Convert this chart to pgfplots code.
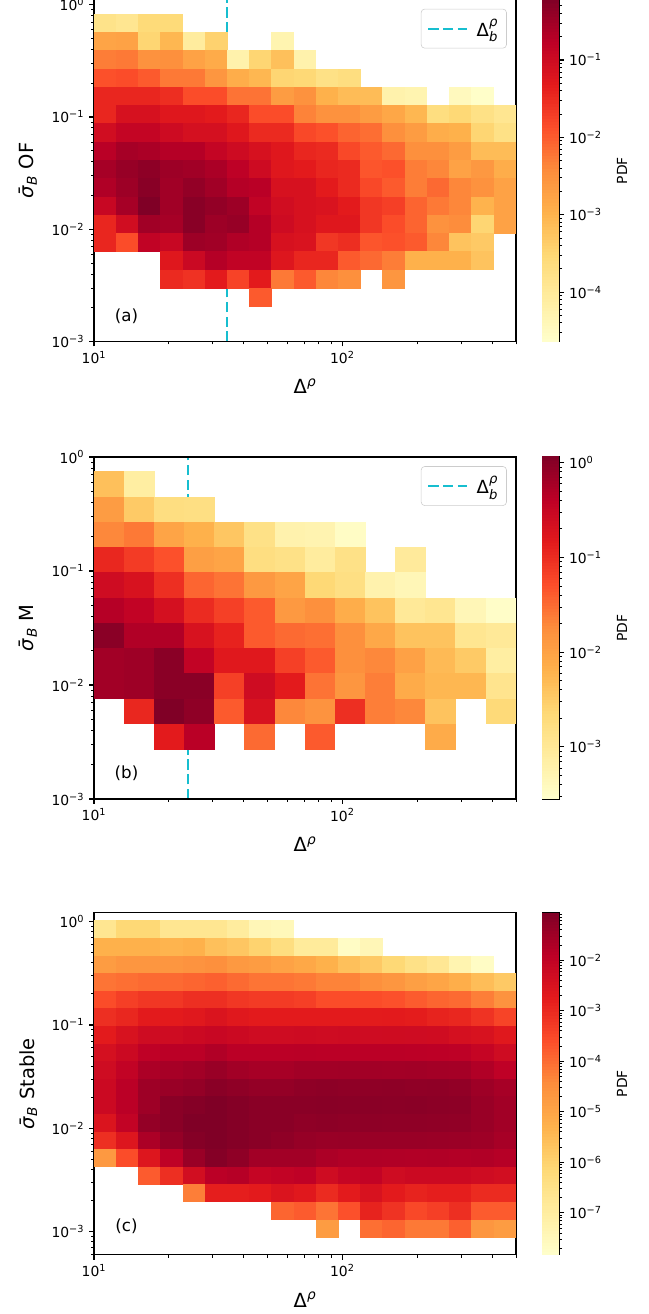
\documentclass[border=0pt]{standalone}
\usepackage{fontspec}
\setmainfont{DejaVu Sans}
\usepackage{pgfplots}
\usepackage{pgfplotstable}
\pgfplotsset{compat=1.18}

\definecolor{dashc}{HTML}{17BECF}

% half sizes of one histogram cell (axis 303.84pt x 246.24pt), plus a little overlap
\newdimen\cwA \newdimen\chA \newdimen\cwB \newdimen\chB \newdimen\chC \newdimen\cbw
\cwA=8.2pt \chA=6.79pt \cwB=11.05pt \chB=9.29pt \chC=6.54pt \cbw=6.12pt
\pgfdeclareplotmark{cellA}{\pgfpathrectangle{\pgfqpoint{-\cwA}{-\chA}}{\pgfqpoint{2\cwA}{2\chA}}\pgfusepathqfill}
\pgfdeclareplotmark{cellB}{\pgfpathrectangle{\pgfqpoint{-\cwB}{-\chB}}{\pgfqpoint{2\cwB}{2\chB}}\pgfusepathqfill}
\pgfdeclareplotmark{cellC}{\pgfpathrectangle{\pgfqpoint{-\cwA}{-\chC}}{\pgfqpoint{2\cwA}{2\chC}}\pgfusepathqfill}
% thin slices of the colour bars
\pgfdeclareplotmark{barA}{\pgfpathrectangle{\pgfqpoint{-\cbw}{-1.3pt}}{\pgfqpoint{2\cbw}{2.6pt}}\pgfusepathqfill}
\pgfdeclareplotmark{barB}{\pgfpathrectangle{\pgfqpoint{-\cbw}{-1.2pt}}{\pgfqpoint{2\cbw}{2.4pt}}\pgfusepathqfill}
\pgfdeclareplotmark{barC}{\pgfpathrectangle{\pgfqpoint{-\cbw}{-1.25pt}}{\pgfqpoint{2\cbw}{2.5pt}}\pgfusepathqfill}

\newcommand{\legtext}{Δ\rlap{\raisebox{0.56em}{\fontsize{9.5}{10}\selectfont\textit{ρ}}}\raisebox{-0.3em}{\fontsize{9.5}{10}\selectfont\textit{b}}}

% log10(PDF) per cell: i = x bin, j = y bin counted from the top
\pgfplotstableread[row sep=\\]{
i j v\\
0 0 -3.80\\ 1 0 -3.89\\ 2 0 -3.58\\ 3 0 -3.58\\
0 1 -2.78\\ 1 1 -2.74\\ 2 1 -3.49\\ 3 1 -3.05\\ 4 1 -4.06\\ 5 1 -3.44\\ 8 1 -4.29\\
0 2 -2.29\\ 1 2 -2.25\\ 2 2 -2.51\\ 3 2 -2.47\\ 4 2 -2.74\\ 5 2 -2.87\\ 6 2 -4.24\\ 7 2 -3.49\\ 8 2 -3.18\\ 9 2 -4.24\\
0 3 -1.89\\ 1 3 -1.85\\ 2 3 -1.98\\ 3 3 -2.25\\ 4 3 -2.25\\ 5 3 -2.56\\ 6 3 -2.91\\ 7 3 -3.05\\ 8 3 -3.49\\ 9 3 -3.53\\ 10 3 -3.75\\ 11 3 -3.67\\
0 4 -1.45\\ 1 4 -1.45\\ 2 4 -1.45\\ 3 4 -1.54\\ 4 4 -1.85\\ 5 4 -1.85\\ 6 4 -2.20\\ 7 4 -2.20\\ 8 4 -2.65\\ 9 4 -2.51\\ 10 4 -2.96\\ 11 4 -3.13\\ 12 4 -3.13\\ 13 4 -4.24\\ 14 4 -4.29\\ 16 4 -4.46\\ 17 4 -4.60\\
0 5 -1.45\\ 1 5 -1.14\\ 2 5 -1.14\\ 3 5 -1.27\\ 4 5 -1.27\\ 5 5 -1.32\\ 6 5 -1.45\\ 7 5 -1.85\\ 8 5 -1.85\\ 9 5 -2.34\\ 10 5 -2.51\\ 11 5 -2.51\\ 12 5 -2.65\\ 13 5 -2.82\\ 14 5 -3.05\\ 15 5 -3.67\\ 16 5 -3.53\\ 17 5 -3.75\\ 18 5 -3.89\\
0 6 -1.05\\ 1 6 -0.87\\ 2 6 -0.87\\ 3 6 -1.01\\ 4 6 -1.10\\ 5 6 -1.10\\ 6 6 -1.27\\ 7 6 -1.49\\ 8 6 -1.49\\ 9 6 -1.81\\ 10 6 -1.89\\ 11 6 -2.07\\ 12 6 -2.16\\ 13 6 -2.47\\ 14 6 -2.65\\ 15 6 -2.91\\ 16 6 -2.96\\ 17 6 -3.49\\ 18 6 -3.75\\
0 7 -0.74\\ 1 7 -0.56\\ 2 7 -0.61\\ 3 7 -0.70\\ 4 7 -0.70\\ 5 7 -0.87\\ 6 7 -1.01\\ 7 7 -1.14\\ 8 7 -1.27\\ 9 7 -1.45\\ 10 7 -1.49\\ 11 7 -1.81\\ 12 7 -1.98\\ 13 7 -2.11\\ 14 7 -2.47\\ 15 7 -2.47\\ 16 7 -2.65\\ 17 7 -3.13\\ 18 7 -3.13\\
0 8 -0.56\\ 1 8 -0.43\\ 2 8 -0.34\\ 3 8 -0.48\\ 4 8 -0.52\\ 5 8 -0.61\\ 6 8 -0.79\\ 7 8 -1.01\\ 8 8 -1.27\\ 9 8 -1.32\\ 10 8 -1.45\\ 11 8 -1.49\\ 12 8 -1.94\\ 13 8 -1.89\\ 14 8 -2.29\\ 15 8 -2.38\\ 16 8 -2.74\\ 17 8 -2.60\\ 18 8 -2.91\\
0 9 -0.65\\ 1 9 -0.48\\ 2 9 -0.30\\ 3 9 -0.52\\ 4 9 -0.39\\ 5 9 -0.52\\ 6 9 -0.70\\ 7 9 -0.74\\ 8 9 -1.14\\ 9 9 -1.14\\ 10 9 -1.32\\ 11 9 -1.49\\ 12 9 -1.81\\ 13 9 -1.98\\ 14 9 -2.29\\ 15 9 -2.11\\ 16 9 -2.38\\ 17 9 -2.51\\ 18 9 -2.74\\
0 10 -0.92\\ 1 10 -0.56\\ 2 10 -0.21\\ 3 10 -0.52\\ 4 10 -0.30\\ 5 10 -0.39\\ 6 10 -0.48\\ 7 10 -0.83\\ 8 10 -1.05\\ 9 10 -1.14\\ 10 10 -1.18\\ 11 10 -1.32\\ 12 10 -1.63\\ 13 10 -1.72\\ 14 10 -2.07\\ 15 10 -2.25\\ 16 10 -2.38\\ 17 10 -3.00\\ 18 10 -2.74\\
0 11 -1.45\\ 1 11 -1.05\\ 2 11 -0.52\\ 3 11 -0.56\\ 4 11 -0.30\\ 5 11 -0.48\\ 6 11 -0.43\\ 7 11 -0.70\\ 8 11 -1.01\\ 9 11 -1.14\\ 10 11 -1.27\\ 11 11 -1.27\\ 12 11 -1.63\\ 13 11 -1.85\\ 14 11 -2.07\\ 15 11 -2.51\\ 16 11 -2.43\\ 17 11 -3.49\\ 18 11 -2.74\\
0 12 -1.45\\ 1 12 -1.85\\ 2 12 -0.83\\ 3 12 -0.92\\ 4 12 -0.48\\ 5 12 -0.52\\ 6 12 -0.65\\ 7 12 -0.70\\ 8 12 -1.14\\ 9 12 -1.18\\ 10 12 -1.63\\ 11 12 -1.54\\ 12 12 -1.94\\ 13 12 -1.89\\ 14 12 -1.98\\ 15 12 -2.38\\ 16 12 -3.22\\ 17 12 -3.31\\
3 13 -1.27\\ 4 13 -0.96\\ 5 13 -0.70\\ 6 13 -0.83\\ 7 13 -0.83\\ 8 13 -1.23\\ 9 13 -1.45\\ 10 13 -1.45\\ 11 13 -1.98\\ 12 13 -2.11\\ 13 13 -2.29\\ 14 13 -2.96\\ 15 13 -2.96\\ 16 13 -2.96\\ 17 13 -3.22\\
3 14 -1.49\\ 4 14 -1.58\\ 5 14 -1.32\\ 6 14 -1.76\\ 7 14 -1.32\\ 8 14 -2.25\\ 9 14 -1.98\\ 10 14 -2.38\\ 11 14 -2.47\\ 13 14 -2.56\\
7 15 -1.98\\
}\cellsA

\pgfplotstableread[row sep=\\]{
i j v\\
0 0 -2.36\\ 1 0 -3.12\\
0 1 -1.93\\ 1 1 -2.47\\ 2 1 -2.76\\ 3 1 -2.79\\
0 2 -1.71\\ 1 2 -1.60\\ 2 2 -2.03\\ 3 2 -2.18\\ 4 2 -2.43\\ 5 2 -2.83\\ 6 2 -3.23\\ 7 2 -3.26\\ 8 2 -3.48\\
0 3 -0.95\\ 1 3 -1.13\\ 2 3 -1.31\\ 3 3 -1.96\\ 4 3 -2.03\\ 5 3 -2.76\\ 6 3 -2.83\\ 7 3 -3.08\\ 8 3 -2.83\\ 10 3 -3.04\\
0 4 -0.59\\ 1 4 -0.70\\ 2 4 -1.02\\ 3 4 -1.46\\ 4 4 -1.56\\ 5 4 -1.89\\ 6 4 -2.03\\ 7 4 -2.65\\ 8 4 -2.79\\ 9 4 -3.23\\ 10 4 -3.33\\
0 5 -0.34\\ 1 5 -0.45\\ 2 5 -0.66\\ 3 5 -0.99\\ 4 5 -1.17\\ 5 5 -1.38\\ 6 5 -1.89\\ 7 5 -1.78\\ 8 5 -2.14\\ 9 5 -2.39\\ 10 5 -3.01\\ 11 5 -2.94\\ 12 5 -3.33\\ 13 5 -3.51\\
0 6 -0.01\\ 1 6 -0.30\\ 2 6 -0.30\\ 3 6 -0.70\\ 4 6 -0.91\\ 5 6 -1.38\\ 6 6 -1.49\\ 7 6 -1.53\\ 8 6 -1.78\\ 9 6 -2.07\\ 10 6 -2.39\\ 11 6 -2.39\\ 12 6 -2.94\\ 13 6 -3.01\\
0 7 -0.19\\ 1 7 -0.16\\ 2 7 -0.01\\ 3 7 -0.45\\ 4 7 -0.81\\ 5 7 -0.81\\ 6 7 -1.17\\ 7 7 -1.38\\ 8 7 -1.78\\ 9 7 -1.71\\ 10 7 -1.99\\ 11 7 -2.29\\ 12 7 -2.47\\ 13 7 -3.12\\
0 8 -0.19\\ 1 8 -0.16\\ 2 8 -0.01\\ 3 8 -0.01\\ 4 8 -1.17\\ 5 8 -0.59\\ 6 8 -0.84\\ 7 8 -1.56\\ 8 8 -1.85\\ 9 8 -1.64\\ 10 8 -2.11\\ 11 8 -2.25\\ 12 8 -2.25\\ 13 8 -2.90\\
1 9 -0.95\\ 2 9 0.06\\ 3 9 -0.05\\ 4 9 -1.38\\ 5 9 -0.70\\ 6 9 -1.71\\ 7 9 -1.82\\ 8 9 -1.02\\ 9 9 -1.64\\ 10 9 -1.71\\ 11 9 -2.39\\ 13 9 -2.68\\
2 10 -0.84\\ 3 10 -0.37\\ 5 10 -1.49\\ 7 10 -1.38\\ 11 10 -2.11\\
}\cellsB

\pgfplotstableread[row sep=\\]{
i j v\\
0 0 -6.68\\ 1 0 -6.14\\ 2 0 -6.14\\ 3 0 -6.68\\ 4 0 -6.68\\ 5 0 -6.68\\ 6 0 -6.95\\ 7 0 -7.42\\ 8 0 -7.49\\
0 1 -5.26\\ 1 1 -5.26\\ 2 1 -5.26\\ 3 1 -5.33\\ 4 1 -5.26\\ 5 1 -5.60\\ 6 1 -5.73\\ 7 1 -6.00\\ 8 1 -6.34\\ 9 1 -6.88\\ 10 1 -6.88\\ 11 1 -7.69\\ 12 1 -7.42\\
0 2 -4.78\\ 1 2 -4.65\\ 2 2 -4.65\\ 3 2 -4.65\\ 4 2 -4.58\\ 5 2 -4.51\\ 6 2 -4.72\\ 7 2 -4.78\\ 8 2 -4.92\\ 9 2 -5.05\\ 10 2 -5.26\\ 11 2 -5.60\\ 12 2 -5.80\\ 13 2 -6.14\\ 14 2 -6.48\\ 15 2 -6.75\\ 16 2 -7.29\\ 17 2 -7.69\\
0 3 -4.11\\ 1 3 -4.04\\ 2 3 -3.97\\ 3 3 -3.97\\ 4 3 -3.90\\ 5 3 -3.84\\ 6 3 -3.97\\ 7 3 -4.11\\ 8 3 -4.11\\ 9 3 -4.17\\ 10 3 -4.31\\ 11 3 -4.31\\ 12 3 -4.51\\ 13 3 -4.65\\ 14 3 -4.85\\ 15 3 -4.99\\ 16 3 -5.19\\ 17 3 -5.53\\ 18 3 -5.80\\
0 4 -3.56\\ 1 4 -3.36\\ 2 4 -3.23\\ 3 4 -3.23\\ 4 4 -3.09\\ 5 4 -3.09\\ 6 4 -3.23\\ 7 4 -3.29\\ 8 4 -3.29\\ 9 4 -3.36\\ 10 4 -3.56\\ 11 4 -3.56\\ 12 4 -3.56\\ 13 4 -3.63\\ 14 4 -3.77\\ 15 4 -3.90\\ 16 4 -3.97\\ 17 4 -4.24\\ 18 4 -4.58\\
0 5 -3.09\\ 1 5 -2.96\\ 2 5 -2.75\\ 3 5 -2.75\\ 4 5 -2.68\\ 5 5 -2.55\\ 6 5 -2.68\\ 7 5 -2.75\\ 8 5 -2.75\\ 9 5 -2.75\\ 10 5 -2.74\\ 11 5 -2.75\\ 12 5 -2.76\\ 13 5 -2.75\\ 14 5 -2.78\\ 15 5 -2.89\\ 16 5 -2.96\\ 17 5 -3.16\\ 18 5 -3.43\\
0 6 -2.75\\ 1 6 -2.48\\ 2 6 -2.28\\ 3 6 -2.28\\ 4 6 -2.21\\ 5 6 -2.14\\ 6 6 -2.21\\ 7 6 -2.28\\ 8 6 -2.28\\ 9 6 -2.26\\ 10 6 -2.28\\ 11 6 -2.27\\ 12 6 -2.28\\ 13 6 -2.29\\ 14 6 -2.28\\ 15 6 -2.31\\ 16 6 -2.41\\ 17 6 -2.48\\ 18 6 -2.68\\
0 7 -2.41\\ 1 7 -2.21\\ 2 7 -1.94\\ 3 7 -1.87\\ 4 7 -1.87\\ 5 7 -1.74\\ 6 7 -1.87\\ 7 7 -1.87\\ 8 7 -1.88\\ 9 7 -1.86\\ 10 7 -1.87\\ 11 7 -1.87\\ 12 7 -1.88\\ 13 7 -1.87\\ 14 7 -1.89\\ 15 7 -1.90\\ 16 7 -1.92\\ 17 7 -2.08\\ 18 7 -2.28\\
0 8 -2.28\\ 1 8 -2.01\\ 2 8 -1.67\\ 3 8 -1.60\\ 4 8 -1.53\\ 5 8 -1.40\\ 6 8 -1.53\\ 7 8 -1.60\\ 8 8 -1.60\\ 9 8 -1.53\\ 10 8 -1.53\\ 11 8 -1.52\\ 12 8 -1.53\\ 13 8 -1.54\\ 14 8 -1.53\\ 15 8 -1.55\\ 16 8 -1.57\\ 17 8 -1.74\\ 18 8 -1.94\\
0 9 -2.21\\ 1 9 -1.87\\ 2 9 -1.47\\ 3 9 -1.40\\ 4 9 -1.33\\ 5 9 -1.20\\ 6 9 -1.26\\ 7 9 -1.33\\ 8 9 -1.33\\ 9 9 -1.26\\ 10 9 -1.24\\ 11 9 -1.26\\ 12 9 -1.27\\ 13 9 -1.25\\ 14 9 -1.28\\ 15 9 -1.27\\ 16 9 -1.30\\ 17 9 -1.47\\ 18 9 -1.60\\
0 10 -2.21\\ 1 10 -1.87\\ 2 10 -1.47\\ 3 10 -1.20\\ 4 10 -1.13\\ 5 10 -1.06\\ 6 10 -1.13\\ 7 10 -1.20\\ 8 10 -1.20\\ 9 10 -1.20\\ 10 10 -1.18\\ 11 10 -1.20\\ 12 10 -1.19\\ 13 10 -1.21\\ 14 10 -1.20\\ 15 10 -1.22\\ 16 10 -1.24\\ 17 10 -1.40\\ 18 10 -1.53\\
0 11 -2.55\\ 1 11 -2.01\\ 2 11 -1.33\\ 3 11 -1.20\\ 4 11 -1.06\\ 5 11 -1.06\\ 6 11 -1.13\\ 7 11 -1.20\\ 8 11 -1.20\\ 9 11 -1.26\\ 10 11 -1.24\\ 11 11 -1.26\\ 12 11 -1.25\\ 13 11 -1.27\\ 14 11 -1.26\\ 15 11 -1.28\\ 16 11 -1.29\\ 17 11 -1.40\\ 18 11 -1.53\\
0 12 -3.09\\ 1 12 -2.62\\ 2 12 -1.67\\ 3 12 -1.33\\ 4 12 -1.13\\ 5 12 -1.06\\ 6 12 -1.13\\ 7 12 -1.20\\ 8 12 -1.26\\ 9 12 -1.36\\ 10 12 -1.40\\ 11 12 -1.39\\ 12 12 -1.40\\ 13 12 -1.41\\ 14 12 -1.40\\ 15 12 -1.42\\ 16 12 -1.43\\ 17 12 -1.47\\ 18 12 -1.60\\
0 13 -4.72\\ 1 13 -3.56\\ 2 13 -2.62\\ 3 13 -1.94\\ 4 13 -1.40\\ 5 13 -1.13\\ 6 13 -1.26\\ 7 13 -1.53\\ 8 13 -1.53\\ 9 13 -1.53\\ 10 13 -1.67\\ 11 13 -1.74\\ 12 13 -1.72\\ 13 13 -1.74\\ 14 13 -1.75\\ 15 13 -1.74\\ 16 13 -1.76\\ 17 13 -1.74\\ 18 13 -1.80\\
2 14 -3.77\\ 3 14 -3.09\\ 4 14 -2.35\\ 5 14 -1.87\\ 6 14 -1.80\\ 7 14 -2.08\\ 8 14 -2.01\\ 9 14 -1.94\\ 10 14 -2.28\\ 11 14 -2.08\\ 12 14 -2.01\\ 13 14 -2.28\\ 14 14 -2.21\\ 15 14 -2.21\\ 16 14 -2.21\\ 17 14 -2.28\\ 18 14 -2.35\\
4 15 -4.24\\ 5 15 -2.82\\ 6 15 -2.82\\ 7 15 -2.75\\ 8 15 -2.55\\ 9 15 -2.68\\ 10 15 -3.02\\ 11 15 -2.75\\ 12 15 -2.48\\ 13 15 -2.75\\ 14 15 -2.89\\ 15 15 -2.82\\ 16 15 -2.82\\ 17 15 -3.02\\ 18 15 -3.02\\
8 16 -3.90\\ 9 16 -3.77\\ 10 16 -4.11\\ 11 16 -3.63\\ 12 16 -2.89\\ 13 16 -3.16\\ 14 16 -3.50\\ 15 16 -3.36\\ 16 16 -3.09\\ 17 16 -3.77\\ 18 16 -3.77\\
10 17 -4.78\\ 12 17 -4.04\\ 13 17 -3.90\\ 14 17 -4.17\\ 15 17 -4.17\\ 16 17 -3.84\\ 17 17 -4.65\\ 18 17 -4.78\\
}\cellsC

\pgfplotsset{
  colormap={ylorrd}{rgb255=(255,255,204) rgb255=(255,237,160) rgb255=(254,217,118)
    rgb255=(254,178,76) rgb255=(253,141,60) rgb255=(252,78,42) rgb255=(227,26,28)
    rgb255=(189,0,38) rgb255=(128,0,38)},
  tick label style={font=\fontsize{10}{12}\selectfont},
  scale only axis,
  tick align=outside,
  major tick length=3.5pt, minor tick length=2pt,
  every tick/.append style={black, line width=0.8pt},
  every minor tick/.append style={line width=0.6pt},
  axis line style={line width=0.8pt},
  axis on top,
}

\begin{document}
\begin{tikzpicture}
\useasboundingbox (-67.68pt,-0.3pt) rectangle (398.88pt,-946.3pt);

% (a) OF
\begin{axis}[name=pa, at={(0pt,0pt)}, anchor=north west,
  width=303.84pt, height=246.24pt,
  xmode=log, ymode=log, xmin=10, xmax=500, ymin=0.001, ymax=1.11,
  xtick={10,100}, xticklabels={10\textsuperscript{1},10\textsuperscript{2}},
  minor xtick={20,30,40,50,60,70,80,90,200,300,400,500},
  ytick={0.001,0.01,0.1,1},
  yticklabels={10\textsuperscript{−3},10\textsuperscript{−2},10\textsuperscript{−1},10\textsuperscript{0}},
  minor ytick={0.002,0.003,0.004,0.005,0.006,0.007,0.008,0.009,
    0.02,0.03,0.04,0.05,0.06,0.07,0.08,0.09,0.2,0.3,0.4,0.5,0.6,0.7,0.8,0.9},
  xtick pos=bottom, ytick pos=left,
  point meta min=-4.64, point meta max=-0.22,
  xlabel={Δ\textsuperscript{\textit{ρ}}},
  ylabel={\textit{σ̄}\textsubscript{\textit{B}} OF},
  every axis label/.append style={font=\fontsize{14}{17}\selectfont},
  every axis x label/.append style={at={(axis description cs:0.5,-0.153)}, anchor=base},
  every axis y label/.append style={at={(axis description cs:-0.156,0.5)}, anchor=center},
  legend style={at={(axis description cs:0.978,0.973)}, anchor=north east,
    draw=black!20, rounded corners=2.5pt, fill=white,
    inner xsep=4.5pt, inner ysep=5pt,
    /tikz/every odd column/.append style={column sep=4pt},
    font=\fontsize{13}{15}\selectfont},
  legend image code/.code={\draw[#1] (0pt,0pt) -- (28pt,0pt);}]
\addplot[scatter, only marks, scatter src=explicit, mark=cellA, forget plot]
  table[x expr={10^(1+(\thisrow{i}+0.5)*0.08942)},
  y expr={10^(-0.082-(\thisrow{j}+0.5)*0.1629)}, meta=v] {\cellsA};
\addplot[color=dashc, line width=1.5pt, dash pattern=on 7.4pt off 3.2pt]
  coordinates {(34.3,0.001) (34.3,1.11)};
\addlegendentry{\legtext}
\node[font=\fontsize{12}{14}\selectfont] at (axis description cs:0.077,0.075) {(a)};
\end{axis}
\begin{axis}[at={(pa.north east)}, anchor=north west, xshift=18.9pt,
  width=12.24pt, height=246.24pt,
  xmin=0, xmax=1, xtick=\empty, ytick pos=right, yticklabel pos=right,
  ymin=-4.64, ymax=-0.22, point meta min=-4.64, point meta max=-0.22,
  ytick={-4,-3,-2,-1},
  yticklabels={10\textsuperscript{−4},10\textsuperscript{−3},10\textsuperscript{−2},10\textsuperscript{−1}},
  minor ytick={-4.523,-4.398,-4.301,-4.222,-4.155,-4.097,-4.046,
    -3.699,-3.523,-3.398,-3.301,-3.222,-3.155,-3.097,-3.046,
    -2.699,-2.523,-2.398,-2.301,-2.222,-2.155,-2.097,-2.046,
    -1.699,-1.523,-1.398,-1.301,-1.222,-1.155,-1.097,-1.046,
    -0.699,-0.523,-0.398,-0.301},
  ylabel={PDF},
  every axis y label/.append style={at={(axis description cs:4.69,0.5)}, anchor=center,
    font=\fontsize{10}{12}\selectfont}]
\addplot[scatter, only marks, scatter src=y, mark=barA] coordinates {
  (0.5,-4.62) (0.5,-4.58) (0.5,-4.54) (0.5,-4.50) (0.5,-4.46) (0.5,-4.42) (0.5,-4.38) (0.5,-4.34) (0.5,-4.30) (0.5,-4.26)
  (0.5,-4.22) (0.5,-4.18) (0.5,-4.14) (0.5,-4.10) (0.5,-4.06) (0.5,-4.02) (0.5,-3.98) (0.5,-3.94) (0.5,-3.90) (0.5,-3.86)
  (0.5,-3.82) (0.5,-3.78) (0.5,-3.74) (0.5,-3.70) (0.5,-3.66) (0.5,-3.62) (0.5,-3.58) (0.5,-3.54) (0.5,-3.50) (0.5,-3.46)
  (0.5,-3.42) (0.5,-3.38) (0.5,-3.34) (0.5,-3.30) (0.5,-3.26) (0.5,-3.22) (0.5,-3.18) (0.5,-3.14) (0.5,-3.10) (0.5,-3.06)
  (0.5,-3.02) (0.5,-2.98) (0.5,-2.94) (0.5,-2.90) (0.5,-2.86) (0.5,-2.82) (0.5,-2.78) (0.5,-2.74) (0.5,-2.70) (0.5,-2.66)
  (0.5,-2.62) (0.5,-2.58) (0.5,-2.54) (0.5,-2.50) (0.5,-2.46) (0.5,-2.42) (0.5,-2.38) (0.5,-2.34) (0.5,-2.30) (0.5,-2.26)
  (0.5,-2.22) (0.5,-2.18) (0.5,-2.14) (0.5,-2.10) (0.5,-2.06) (0.5,-2.02) (0.5,-1.98) (0.5,-1.94) (0.5,-1.90) (0.5,-1.86)
  (0.5,-1.82) (0.5,-1.78) (0.5,-1.74) (0.5,-1.70) (0.5,-1.66) (0.5,-1.62) (0.5,-1.58) (0.5,-1.54) (0.5,-1.50) (0.5,-1.46)
  (0.5,-1.42) (0.5,-1.38) (0.5,-1.34) (0.5,-1.30) (0.5,-1.26) (0.5,-1.22) (0.5,-1.18) (0.5,-1.14) (0.5,-1.10) (0.5,-1.06)
  (0.5,-1.02) (0.5,-0.98) (0.5,-0.94) (0.5,-0.90) (0.5,-0.86) (0.5,-0.82) (0.5,-0.78) (0.5,-0.74) (0.5,-0.70) (0.5,-0.66)
  (0.5,-0.62) (0.5,-0.58) (0.5,-0.54) (0.5,-0.50) (0.5,-0.46) (0.5,-0.42) (0.5,-0.38) (0.5,-0.34) (0.5,-0.30) (0.5,-0.26)
  (0.5,-0.24)};
\end{axis}

% (b) M
\begin{axis}[name=pb, at={(0pt,-329.3pt)}, anchor=north west,
  width=303.84pt, height=246.24pt,
  xmode=log, ymode=log, xmin=10, xmax=500, ymin=0.001, ymax=1,
  xtick={10,100}, xticklabels={10\textsuperscript{1},10\textsuperscript{2}},
  minor xtick={20,30,40,50,60,70,80,90,200,300,400,500},
  ytick={0.001,0.01,0.1,1},
  yticklabels={10\textsuperscript{−3},10\textsuperscript{−2},10\textsuperscript{−1},10\textsuperscript{0}},
  minor ytick={0.002,0.003,0.004,0.005,0.006,0.007,0.008,0.009,
    0.02,0.03,0.04,0.05,0.06,0.07,0.08,0.09,0.2,0.3,0.4,0.5,0.6,0.7,0.8,0.9},
  xtick pos=bottom, ytick pos=left,
  point meta min=-3.55, point meta max=0.06,
  xlabel={Δ\textsuperscript{\textit{ρ}}},
  ylabel={\textit{σ̄}\textsubscript{\textit{B}} M},
  every axis label/.append style={font=\fontsize{14}{17}\selectfont},
  every axis x label/.append style={at={(axis description cs:0.5,-0.153)}, anchor=base},
  every axis y label/.append style={at={(axis description cs:-0.156,0.5)}, anchor=center},
  legend style={at={(axis description cs:0.978,0.973)}, anchor=north east,
    draw=black!20, rounded corners=2.5pt, fill=white,
    inner xsep=4.5pt, inner ysep=5pt,
    /tikz/every odd column/.append style={column sep=4pt},
    font=\fontsize{13}{15}\selectfont},
  legend image code/.code={\draw[#1] (0pt,0pt) -- (28pt,0pt);}]
\addplot[scatter, only marks, scatter src=explicit, mark=cellB, forget plot]
  table[x expr={10^(1+(\thisrow{i}+0.5)*0.12136)},
  y expr={10^(-0.129-(\thisrow{j}+0.5)*0.2214)}, meta=v] {\cellsB};
\addplot[color=dashc, line width=1.5pt, dash pattern=on 7.4pt off 3.2pt]
  coordinates {(23.9,0.001) (23.9,1)};
\addlegendentry{\legtext}
\node[font=\fontsize{12}{14}\selectfont] at (axis description cs:0.077,0.075) {(b)};
\end{axis}
\begin{axis}[at={(pb.north east)}, anchor=north west, xshift=18.9pt,
  width=12.24pt, height=246.24pt,
  xmin=0, xmax=1, xtick=\empty, ytick pos=right, yticklabel pos=right,
  ymin=-3.55, ymax=0.06, point meta min=-3.55, point meta max=0.06,
  ytick={-3,-2,-1,0},
  yticklabels={10\textsuperscript{−3},10\textsuperscript{−2},10\textsuperscript{−1},10\textsuperscript{0}},
  minor ytick={-3.523,-3.398,-3.301,-3.222,-3.155,-3.097,-3.046,
    -2.699,-2.523,-2.398,-2.301,-2.222,-2.155,-2.097,-2.046,
    -1.699,-1.523,-1.398,-1.301,-1.222,-1.155,-1.097,-1.046,
    -0.699,-0.523,-0.398,-0.301,-0.222,-0.155,-0.097,-0.046},
  ylabel={PDF},
  every axis y label/.append style={at={(axis description cs:4.69,0.5)}, anchor=center,
    font=\fontsize{10}{12}\selectfont}]
\addplot[scatter, only marks, scatter src=y, mark=barB] coordinates {
  (0.5,-3.535) (0.5,-3.505) (0.5,-3.475) (0.5,-3.445) (0.5,-3.415) (0.5,-3.385) (0.5,-3.355) (0.5,-3.325) (0.5,-3.295) (0.5,-3.265)
  (0.5,-3.235) (0.5,-3.205) (0.5,-3.175) (0.5,-3.145) (0.5,-3.115) (0.5,-3.085) (0.5,-3.055) (0.5,-3.025) (0.5,-2.995) (0.5,-2.965)
  (0.5,-2.935) (0.5,-2.905) (0.5,-2.875) (0.5,-2.845) (0.5,-2.815) (0.5,-2.785) (0.5,-2.755) (0.5,-2.725) (0.5,-2.695) (0.5,-2.665)
  (0.5,-2.635) (0.5,-2.605) (0.5,-2.575) (0.5,-2.545) (0.5,-2.515) (0.5,-2.485) (0.5,-2.455) (0.5,-2.425) (0.5,-2.395) (0.5,-2.365)
  (0.5,-2.335) (0.5,-2.305) (0.5,-2.275) (0.5,-2.245) (0.5,-2.215) (0.5,-2.185) (0.5,-2.155) (0.5,-2.125) (0.5,-2.095) (0.5,-2.065)
  (0.5,-2.035) (0.5,-2.005) (0.5,-1.975) (0.5,-1.945) (0.5,-1.915) (0.5,-1.885) (0.5,-1.855) (0.5,-1.825) (0.5,-1.795) (0.5,-1.765)
  (0.5,-1.735) (0.5,-1.705) (0.5,-1.675) (0.5,-1.645) (0.5,-1.615) (0.5,-1.585) (0.5,-1.555) (0.5,-1.525) (0.5,-1.495) (0.5,-1.465)
  (0.5,-1.435) (0.5,-1.405) (0.5,-1.375) (0.5,-1.345) (0.5,-1.315) (0.5,-1.285) (0.5,-1.255) (0.5,-1.225) (0.5,-1.195) (0.5,-1.165)
  (0.5,-1.135) (0.5,-1.105) (0.5,-1.075) (0.5,-1.045) (0.5,-1.015) (0.5,-0.985) (0.5,-0.955) (0.5,-0.925) (0.5,-0.895) (0.5,-0.865)
  (0.5,-0.835) (0.5,-0.805) (0.5,-0.775) (0.5,-0.745) (0.5,-0.715) (0.5,-0.685) (0.5,-0.655) (0.5,-0.625) (0.5,-0.595) (0.5,-0.565)
  (0.5,-0.535) (0.5,-0.505) (0.5,-0.475) (0.5,-0.445) (0.5,-0.415) (0.5,-0.385) (0.5,-0.355) (0.5,-0.325) (0.5,-0.295) (0.5,-0.265)
  (0.5,-0.235) (0.5,-0.205) (0.5,-0.175) (0.5,-0.145) (0.5,-0.115) (0.5,-0.085) (0.5,-0.055) (0.5,-0.025) (0.5,0.005) (0.5,0.035)
  (0.5,0.055)};
\end{axis}

% (c) Stable
\begin{axis}[name=pc, at={(0pt,-657.4pt)}, anchor=north west,
  width=303.84pt, height=246.24pt,
  xmode=log, ymode=log, xmin=10, xmax=500, ymin=0.0005943, ymax=1.222,
  xtick={10,100}, xticklabels={10\textsuperscript{1},10\textsuperscript{2}},
  minor xtick={20,30,40,50,60,70,80,90,200,300,400,500},
  ytick={0.001,0.01,0.1,1},
  yticklabels={10\textsuperscript{−3},10\textsuperscript{−2},10\textsuperscript{−1},10\textsuperscript{0}},
  minor ytick={0.0006,0.0007,0.0008,0.0009,0.002,0.003,0.004,0.005,0.006,0.007,0.008,0.009,
    0.02,0.03,0.04,0.05,0.06,0.07,0.08,0.09,0.2,0.3,0.4,0.5,0.6,0.7,0.8,0.9},
  xtick pos=bottom, ytick pos=left,
  point meta min=-7.83, point meta max=-1.06,
  xlabel={Δ\textsuperscript{\textit{ρ}}},
  ylabel={\textit{σ̄}\textsubscript{\textit{B}} Stable},
  every axis label/.append style={font=\fontsize{14}{17}\selectfont},
  every axis x label/.append style={at={(axis description cs:0.5,-0.153)}, anchor=base},
  every axis y label/.append style={at={(axis description cs:-0.156,0.5)}, anchor=center}]
\addplot[scatter, only marks, scatter src=explicit, mark=cellC, forget plot]
  table[x expr={10^(1+(\thisrow{i}+0.5)*0.08942)},
  y expr={10^(0.011-(\thisrow{j}+0.5)*0.1705)}, meta=v] {\cellsC};
\node[font=\fontsize{12}{14}\selectfont] at (axis description cs:0.077,0.083) {(c)};
\end{axis}
\begin{axis}[at={(pc.north east)}, anchor=north west, xshift=18.9pt,
  width=12.24pt, height=246.24pt,
  xmin=0, xmax=1, xtick=\empty, ytick pos=right, yticklabel pos=right,
  ymin=-7.83, ymax=-1.06, point meta min=-7.83, point meta max=-1.06,
  ytick={-7,-6,-5,-4,-3,-2},
  yticklabels={10\textsuperscript{−7},10\textsuperscript{−6},10\textsuperscript{−5},10\textsuperscript{−4},10\textsuperscript{−3},10\textsuperscript{−2}},
  minor ytick={-7.699,-7.523,-7.398,-7.301,-7.222,-7.155,-7.097,-7.046,
    -6.699,-6.523,-6.398,-6.301,-6.222,-6.155,-6.097,-6.046,
    -5.699,-5.523,-5.398,-5.301,-5.222,-5.155,-5.097,-5.046,
    -4.699,-4.523,-4.398,-4.301,-4.222,-4.155,-4.097,-4.046,
    -3.699,-3.523,-3.398,-3.301,-3.222,-3.155,-3.097,-3.046,
    -2.699,-2.523,-2.398,-2.301,-2.222,-2.155,-2.097,-2.046,
    -1.699,-1.523,-1.398,-1.301,-1.222,-1.155,-1.097},
  ylabel={PDF},
  every axis y label/.append style={at={(axis description cs:4.69,0.5)}, anchor=center,
    font=\fontsize{10}{12}\selectfont}]
\addplot[scatter, only marks, scatter src=y, mark=barC] coordinates {
  (0.5,-7.80) (0.5,-7.74) (0.5,-7.68) (0.5,-7.62) (0.5,-7.56) (0.5,-7.50) (0.5,-7.44) (0.5,-7.38) (0.5,-7.32) (0.5,-7.26)
  (0.5,-7.20) (0.5,-7.14) (0.5,-7.08) (0.5,-7.02) (0.5,-6.96) (0.5,-6.90) (0.5,-6.84) (0.5,-6.78) (0.5,-6.72) (0.5,-6.66)
  (0.5,-6.60) (0.5,-6.54) (0.5,-6.48) (0.5,-6.42) (0.5,-6.36) (0.5,-6.30) (0.5,-6.24) (0.5,-6.18) (0.5,-6.12) (0.5,-6.06)
  (0.5,-6.00) (0.5,-5.94) (0.5,-5.88) (0.5,-5.82) (0.5,-5.76) (0.5,-5.70) (0.5,-5.64) (0.5,-5.58) (0.5,-5.52) (0.5,-5.46)
  (0.5,-5.40) (0.5,-5.34) (0.5,-5.28) (0.5,-5.22) (0.5,-5.16) (0.5,-5.10) (0.5,-5.04) (0.5,-4.98) (0.5,-4.92) (0.5,-4.86)
  (0.5,-4.80) (0.5,-4.74) (0.5,-4.68) (0.5,-4.62) (0.5,-4.56) (0.5,-4.50) (0.5,-4.44) (0.5,-4.38) (0.5,-4.32) (0.5,-4.26)
  (0.5,-4.20) (0.5,-4.14) (0.5,-4.08) (0.5,-4.02) (0.5,-3.96) (0.5,-3.90) (0.5,-3.84) (0.5,-3.78) (0.5,-3.72) (0.5,-3.66)
  (0.5,-3.60) (0.5,-3.54) (0.5,-3.48) (0.5,-3.42) (0.5,-3.36) (0.5,-3.30) (0.5,-3.24) (0.5,-3.18) (0.5,-3.12) (0.5,-3.06)
  (0.5,-3.00) (0.5,-2.94) (0.5,-2.88) (0.5,-2.82) (0.5,-2.76) (0.5,-2.70) (0.5,-2.64) (0.5,-2.58) (0.5,-2.52) (0.5,-2.46)
  (0.5,-2.40) (0.5,-2.34) (0.5,-2.28) (0.5,-2.22) (0.5,-2.16) (0.5,-2.10) (0.5,-2.04) (0.5,-1.98) (0.5,-1.92) (0.5,-1.86)
  (0.5,-1.80) (0.5,-1.74) (0.5,-1.68) (0.5,-1.62) (0.5,-1.56) (0.5,-1.50) (0.5,-1.44) (0.5,-1.38) (0.5,-1.32) (0.5,-1.26)
  (0.5,-1.20) (0.5,-1.14) (0.5,-1.09)};
\end{axis}
\end{tikzpicture}
\end{document}
